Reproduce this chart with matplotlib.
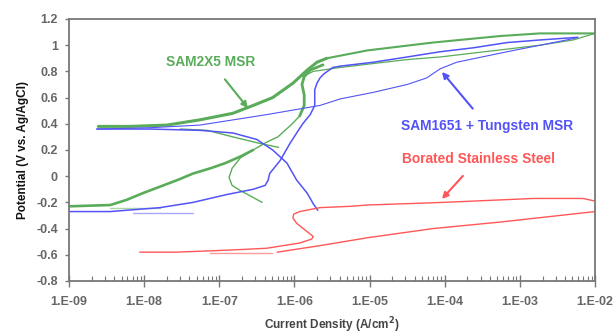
import numpy as np
import matplotlib
matplotlib.use("Agg")
import matplotlib.pyplot as plt
from matplotlib.ticker import FixedLocator, LogLocator, NullFormatter

plt.rcParams['font.family'] = ['Liberation Sans', 'DejaVu Sans']

# ---- data: log10(current density, A/cm2), potential (V) ----
# SAM2X5 MSR (green)
g_low_logi = [-9.00, -8.45, -8.23, -8.02, -7.79, -7.56, -7.35, -7.12, -6.92, -6.72, -6.55]
g_low_e = [-0.23, -0.22, -0.18, -0.13, -0.08, -0.03, 0.02, 0.06, 0.10, 0.15, 0.20]
g_nose_logi = [-5.62, -5.79, -5.87, -5.90, -5.87, -5.87, -5.93, -6.03, -6.22, -6.37, -6.55,
               -6.72, -6.83, -6.87, -6.83, -6.72, -6.59, -6.43]
g_nose_e = [0.85, 0.81, 0.76, 0.70, 0.62, 0.54, 0.46, 0.40, 0.30, 0.26, 0.20,
            0.14, 0.06, -0.01, -0.07, -0.11, -0.15, -0.20]
g_up_logi = [-8.61, -8.19, -7.70, -7.26, -6.82, -6.55, -6.29, -6.02, -5.83, -5.70, -5.57,
             -5.30, -5.03, -4.16, -3.26, -2.73, -2.00]
g_up_e = [0.38, 0.38, 0.39, 0.43, 0.48, 0.54, 0.60, 0.71, 0.81, 0.87, 0.90,
          0.93, 0.96, 1.02, 1.07, 1.09, 1.09]
g_rev_logi = [-2.00, -2.29, -2.73, -3.17, -3.62, -4.06, -4.50, -4.95, -5.39, -5.75, -5.89]
g_rev_e = [1.09, 1.04, 1.00, 0.97, 0.94, 0.91, 0.89, 0.86, 0.83, 0.80, 0.76]
g_tip_logi = [-7.52, -7.16, -6.82, -6.46, -6.21]
g_tip_e = [0.36, 0.35, 0.30, 0.25, 0.22]
g_spike_logi = [-8.45, -7.79]
g_spike_e = [-0.24, -0.24]

# SAM1651 + Tungsten MSR (blue)
b_fwd_logi = [-9.00, -8.45, -8.23, -7.79, -7.35, -6.90, -6.55, -6.39, -6.35, -6.33, -6.19,
              -6.06, -5.97, -5.89, -5.79, -5.73, -5.73, -5.70, -5.66, -5.61, -5.49, -5.39,
              -4.95, -4.50, -4.06, -3.62, -3.17, -2.73, -2.23]
b_fwd_e = [-0.27, -0.27, -0.26, -0.24, -0.20, -0.14, -0.10, -0.07, -0.03, 0.02, 0.12,
           0.25, 0.33, 0.40, 0.47, 0.54, 0.66, 0.71, 0.75, 0.78, 0.83, 0.84,
           0.87, 0.91, 0.95, 0.98, 1.02, 1.04, 1.06]
b_down_logi = [-8.63, -7.92, -7.26, -6.82, -6.50, -6.29, -6.10, -5.97, -5.83, -5.75, -5.69]
b_down_e = [0.36, 0.36, 0.35, 0.33, 0.28, 0.20, 0.10, -0.03, -0.13, -0.21, -0.26]
b_rev_logi = [-8.63, -7.92, -7.26, -6.37, -5.66, -5.39, -4.95, -4.50, -4.24, -4.06, -3.84,
              -3.17, -2.73, -2.29, -2.23]
b_rev_e = [0.36, 0.37, 0.39, 0.47, 0.54, 0.59, 0.64, 0.70, 0.75, 0.82, 0.87,
           0.95, 1.00, 1.05, 1.06]
b_spike_logi = [-8.15, -7.35]
b_spike_e = [-0.28, -0.28]

# Borated Stainless Steel (red)
r_fwd_logi = [-8.06, -7.59, -7.12, -6.72, -6.37, -5.93, -5.77, -5.75, -5.86, -5.97, -6.02,
              -6.01, -5.93, -5.66, -5.26, -5.03, -4.02, -2.82, -2.16, -2.00]
r_fwd_e = [-0.58, -0.58, -0.57, -0.56, -0.55, -0.51, -0.48, -0.46, -0.41, -0.36, -0.32,
           -0.29, -0.27, -0.24, -0.23, -0.22, -0.20, -0.17, -0.17, -0.19]
r_rev_logi = [-2.00, -3.26, -4.16, -5.03, -5.66, -6.23]
r_rev_e = [-0.27, -0.35, -0.40, -0.47, -0.53, -0.58]
r_faint_logi = [-7.12, -6.30]
r_faint_e = [-0.59, -0.59]

x_ticks = [1e-9, 1e-8, 1e-7, 1e-6, 1e-5, 1e-4, 1e-3, 1e-2]
x_labels = ["1.E-09", "1.E-08", "1.E-07", "1.E-06", "1.E-05", "1.E-04", "1.E-03", "1.E-02"]
y_ticks = [-0.8, -0.6, -0.4, -0.2, 0.0, 0.2, 0.4, 0.6, 0.8, 1.0, 1.2]
y_labels = ["-0.8", "-0.6", "-0.4", "-0.2", "0", "0.2", "0.4", "0.6", "0.8", "1", "1.2"]

GREEN = '#5aac5a'
BLUE = '#5353f7'
RED = '#ff5757'

fig = plt.figure(figsize=(6.14, 3.36), dpi=100)
ax = fig.add_axes([0.1124, 0.1637, 0.8567, 0.7798])


def draw(logi, e, color, lw, alpha=1.0):
    ax.plot(10.0 ** np.array(logi), e, color=color, lw=lw, alpha=alpha,
            solid_capstyle='round', solid_joinstyle='round')


draw(g_low_logi, g_low_e, GREEN, 1.9)
draw(g_nose_logi[:7], g_nose_e[:7], GREEN, 2.0)
draw(g_nose_logi[6:], g_nose_e[6:], GREEN, 1.0)
draw(g_up_logi[:11], g_up_e[:11], GREEN, 2.2)
draw(g_up_logi[10:], g_up_e[10:], GREEN, 1.5)
draw(g_rev_logi, g_rev_e, GREEN, 0.9)
draw(g_tip_logi, g_tip_e, GREEN, 1.0)
draw(g_spike_logi, g_spike_e, GREEN, 1.0, 0.5)

draw(b_fwd_logi, b_fwd_e, BLUE, 1.1)
draw(b_down_logi, b_down_e, BLUE, 1.1)
draw(b_rev_logi, b_rev_e, BLUE, 0.8)
draw(b_spike_logi, b_spike_e, BLUE, 1.0, 0.5)

draw(r_fwd_logi, r_fwd_e, RED, 1.0)
draw(r_rev_logi, r_rev_e, RED, 1.0)
draw(r_faint_logi, r_faint_e, RED, 1.0, 0.6)

ax.set_xscale('log')
ax.set_xlim(1e-9, 1e-2)
ax.set_ylim(-0.8, 1.2)
ax.xaxis.set_major_locator(FixedLocator(x_ticks))
ax.set_xticklabels(x_labels)
ax.xaxis.set_minor_locator(LogLocator(base=10, subs=np.arange(2, 10), numticks=20))
ax.xaxis.set_minor_formatter(NullFormatter())
ax.set_yticks(y_ticks)
ax.set_yticklabels(y_labels)

for s in ax.spines.values():
    s.set_color('#777777')
    s.set_linewidth(1.3)

ax.tick_params(axis='x', which='major', direction='inout', length=8, width=1,
               color='#777777', pad=7, labelsize=9, labelcolor='#666666')
ax.tick_params(axis='x', which='minor', direction='in', length=3.5, width=0.8, color='#777777')
ax.tick_params(axis='y', which='major', direction='out', length=3, width=1,
               color='#777777', pad=5, labelsize=9, labelcolor='#666666')
for lab in ax.get_xticklabels() + ax.get_yticklabels():
    lab.set_fontweight('bold')

ax.set_xlabel('Current Density (A/cm$^\\mathbf{2}$)', fontsize=8.5, fontweight='bold',
              color='#444444', labelpad=5)
ax.set_ylabel('Potential (V vs. Ag/AgCl)', fontsize=8.5, fontweight='bold',
              color='#111111', labelpad=5)

arrow_kw = dict(arrowstyle='-|>', lw=1.5, mutation_scale=9)
ax.annotate('SAM2X5 MSR', xy=(0.340, 0.660), xytext=(0.270, 0.836),
            xycoords='axes fraction', textcoords='axes fraction',
            ha='center', va='center', fontsize=9.9, fontweight='bold', color=GREEN,
            arrowprops=dict(color=GREEN, shrinkA=7, shrinkB=0, **arrow_kw))
ax.annotate('SAM1651 + Tungsten MSR', xy=(0.709, 0.798), xytext=(0.795, 0.592),
            xycoords='axes fraction', textcoords='axes fraction',
            ha='center', va='center', fontsize=9.9, fontweight='bold', color=BLUE,
            arrowprops=dict(color=BLUE, shrinkA=7, shrinkB=0, **arrow_kw))
ax.annotate('Borated Stainless Steel', xy=(0.709, 0.313), xytext=(0.778, 0.466),
            xycoords='axes fraction', textcoords='axes fraction',
            ha='center', va='center', fontsize=9.9, fontweight='bold', color=RED,
            arrowprops=dict(color=RED, shrinkA=7, shrinkB=0, **arrow_kw))

fig.savefig('out.png', dpi=100)
